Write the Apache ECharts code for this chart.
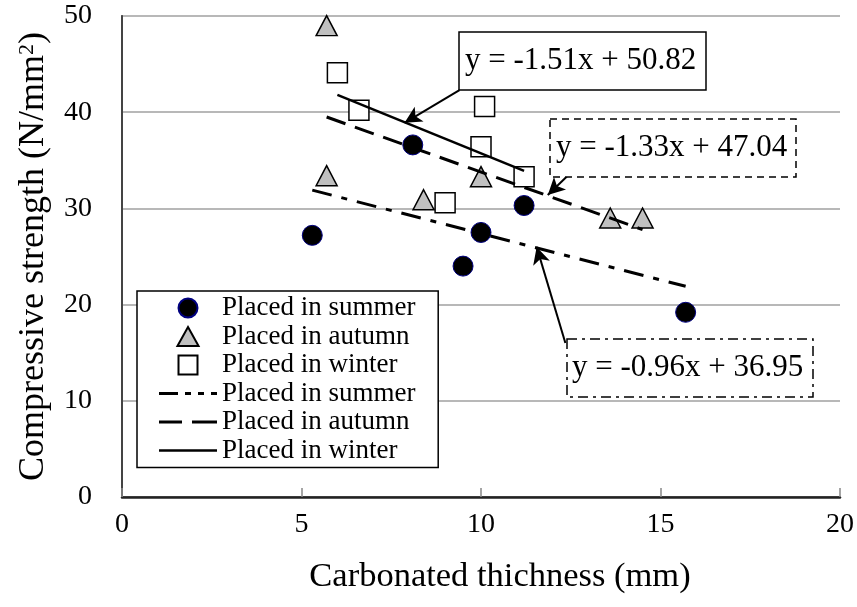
<!DOCTYPE html>
<html>
<head>
<meta charset="utf-8">
<script src="https://cdn.jsdelivr.net/npm/echarts@6/dist/echarts.min.js"></script>
<style>
  html, body { margin: 0; padding: 0; background: #fff; }
  #chart { width: 857px; height: 607px; }
</style>
</head>
<body>
<div id="chart"></div>
<script>
var summerX = [5.3, 8.1, 9.5, 10.0, 11.2, 15.7];
var summerY = [27.2, 36.6, 24.0, 27.5, 30.3, 19.2];
var autumnX = [5.7, 5.7, 8.4, 10.0, 13.6, 14.5];
var autumnY = [49.0, 33.4, 30.9, 33.3, 29.0, 29.0];
var winterX = [6.0, 6.6, 9.0, 10.0, 10.1, 11.2];
var winterY = [44.1, 40.2, 30.6, 36.4, 40.6, 33.3];

// trend line ends as drawn
var summerFitX = [5.3, 15.7];
var summerFitY = [31.9, 21.9];
var autumnFitX = [5.7, 14.5];
var autumnFitY = [39.5, 27.8];
var winterFitX = [6.0, 11.2];
var winterFitY = [41.8, 33.9];

var equations = ['y = -1.51x + 50.82', 'y = -1.33x + 47.04', 'y = -0.96x + 36.95'];
var xTicks = [0, 5, 10, 15, 20];
var yTicks = [0, 10, 20, 30, 40, 50];

var FONT = '"Liberation Serif", "Times New Roman", serif';
// legend icons as paths so they keep their shape in the wide slot
var TRI = 'path://M10,0 L20,18 L0,18 Z';
var SQR = 'path://M0,0 L18,0 L18,18 L0,18 Z';
var DASHDOT = 'path://M0,0h19v3h-19Z M26,0h6v3h-6Z M39,0h6v3h-6Z M52,0h6v3h-6Z';
var DASH = 'path://M0,0h23v3h-23Z M33,0h25v3h-25Z';
var SOLID = 'path://M0,0h58v2.5h-58Z';

function pairs(xs, ys){
    var out = [];
    for(var i = 0; i < xs.length; i++){
        out.push([xs[i], ys[i]]);
    }
    return out;
}

// arrow from an equation box to its line
function arrow(from, to){
    return {
        silent: true,
        symbol: ['none', 'arrow'],
        symbolSize: [13, 17],
        label: {show: false},
        lineStyle: {color: '#000', width: 2, type: 'solid'},
        data: [[{coord: from}, {coord: to}]]
    };
}

var chart = echarts.init(document.getElementById('chart'));

var lineIcon = {color: '#000', borderWidth: 0};

var option = {
    animation: false,
    grid: {left: 122, right: 16, top: 16, bottom: 110},
    xAxis: [{
        type: 'value',
        min: xTicks[0], max: xTicks[xTicks.length - 1], interval: 5,
        name: 'Carbonated thichness (mm)',
        nameLocation: 'middle',
        nameGap: 62,
        nameTextStyle: {fontFamily: FONT, fontSize: 34.5, color: '#000', padding: [0, 0, 0, 38]},
        axisLine: {lineStyle: {color: '#888', width: 2}},
        axisTick: {show: true, inside: true, length: 9, lineStyle: {color: '#888', width: 1.5}},
        axisLabel: {fontFamily: FONT, fontSize: 28, color: '#000', margin: 14},
        splitLine: {show: false}
    }, {
        type: 'value', position: 'top',
        min: xTicks[0], max: xTicks[xTicks.length - 1], interval: 5,
        axisLine: {show: true, lineStyle: {color: '#222', width: 2.5}},
        axisTick: {show: false}, axisLabel: {show: false}, splitLine: {show: false}
    }],
    yAxis: [{
        type: 'value',
        min: yTicks[0], max: yTicks[yTicks.length - 1], interval: 10,
        name: '{t|Compressive strength (N/mm}{s|2}{t|)}',
        nameLocation: 'middle',
        nameRotate: 90,
        nameGap: 70,
        nameTextStyle: {
            rich: {
                t: {fontFamily: FONT, fontSize: 36, color: '#000'},
                s: {fontFamily: FONT, fontSize: 22, color: '#000', verticalAlign: 'top', padding: [0, 0, 14, 0]}
            }
        },
        axisLine: {show: true, lineStyle: {color: '#888', width: 2}},
        axisTick: {show: false},
        axisLabel: {fontFamily: FONT, fontSize: 28, color: '#000', margin: 30},
        splitLine: {lineStyle: {color: '#a0a0a0', width: 1.5}}
    }, {
        type: 'value', position: 'right',
        min: yTicks[0], max: yTicks[yTicks.length - 1], interval: 10,
        axisLine: {show: true, lineStyle: {color: '#444', width: 2}},
        axisTick: {show: false}, axisLabel: {show: false}, splitLine: {show: false}
    }],
    legend: {
        orient: 'vertical',
        left: 137, top: 291,
        padding: [3, 16, 3, 22],
        itemWidth: 58, itemHeight: 19,
        itemGap: 0.5,
        symbolKeepAspect: true,
        backgroundColor: '#fff',
        borderColor: '#000', borderWidth: 1.5,
        textStyle: {fontFamily: FONT, fontSize: 27, color: '#000', lineHeight: 28},
        data: [
            'Placed in summer',
            {name: 'Placed in autumn', icon: TRI},
            {name: 'Placed in winter', icon: SQR},
            {name: 'Placed in summer ', icon: DASHDOT, itemStyle: lineIcon},
            {name: 'Placed in autumn ', icon: DASH, itemStyle: lineIcon},
            {name: 'Placed in winter ', icon: SOLID, itemStyle: lineIcon}
        ]
    },
    series: [{
        name: 'Placed in summer', type: 'scatter', z: 3,
        symbol: 'circle', symbolSize: 20,
        itemStyle: {color: '#000', borderColor: '#000080', borderWidth: 1, opacity: 1},
        data: pairs(summerX, summerY)
    }, {
        name: 'Placed in autumn', type: 'scatter', z: 3,
        symbol: 'triangle', symbolSize: [21, 20],
        itemStyle: {color: '#c0c0c0', borderColor: '#000', borderWidth: 1.5, opacity: 1},
        data: pairs(autumnX, autumnY)
    }, {
        name: 'Placed in winter', type: 'scatter', z: 3,
        symbol: 'rect', symbolSize: 20,
        itemStyle: {color: '#fff', borderColor: '#000', borderWidth: 1.5, opacity: 1},
        data: pairs(winterX, winterY)
    }, {
        name: 'Placed in summer ', type: 'line', z: 4,
        symbol: 'none',
        lineStyle: {color: '#000', width: 3, type: [20, 10, 6, 10]},
        itemStyle: {color: '#000'},
        data: pairs(summerFitX, summerFitY),
        markLine: arrow([12.35, 16.0], [11.55, 26.0])
    }, {
        name: 'Placed in autumn ', type: 'line', z: 4,
        symbol: 'none',
        lineStyle: {color: '#000', width: 3, type: [20, 10]},
        itemStyle: {color: '#000'},
        data: pairs(autumnFitX, autumnFitY),
        markLine: arrow([12.5, 33.7], [11.86, 31.4])
    }, {
        name: 'Placed in winter ', type: 'line', z: 4,
        symbol: 'none',
        lineStyle: {color: '#000', width: 2.5, type: 'solid'},
        itemStyle: {color: '#000'},
        data: pairs(winterFitX, winterFitY),
        markLine: arrow([9.4, 42.3], [7.87, 38.9])
    }],
    graphic: [
        {type: 'rect', z: 10, shape: {x: 459, y: 32, width: 247, height: 58},
         style: {fill: '#fff', stroke: '#000', lineWidth: 1.5}},
        {type: 'text', z: 11, x: 465, y: 61,
         style: {text: equations[0], font: '31px ' + FONT, fill: '#000', textAlign: 'left', textVerticalAlign: 'middle'}},
        {type: 'rect', z: 10, shape: {x: 550, y: 119, width: 246, height: 58},
         style: {fill: '#fff', stroke: '#000', lineWidth: 1.5, lineDash: [7, 5]}},
        {type: 'text', z: 11, x: 556, y: 148,
         style: {text: equations[1], font: '31px ' + FONT, fill: '#000', textAlign: 'left', textVerticalAlign: 'middle'}},
        {type: 'rect', z: 10, shape: {x: 567, y: 339, width: 246, height: 58},
         style: {fill: '#fff', stroke: '#000', lineWidth: 1.5, lineDash: [10, 5, 3, 5]}},
        {type: 'text', z: 11, x: 572, y: 368,
         style: {text: equations[2], font: '31px ' + FONT, fill: '#000', textAlign: 'left', textVerticalAlign: 'middle'}}
    ]
};

chart.setOption(option);
</script>
</body>
</html>
